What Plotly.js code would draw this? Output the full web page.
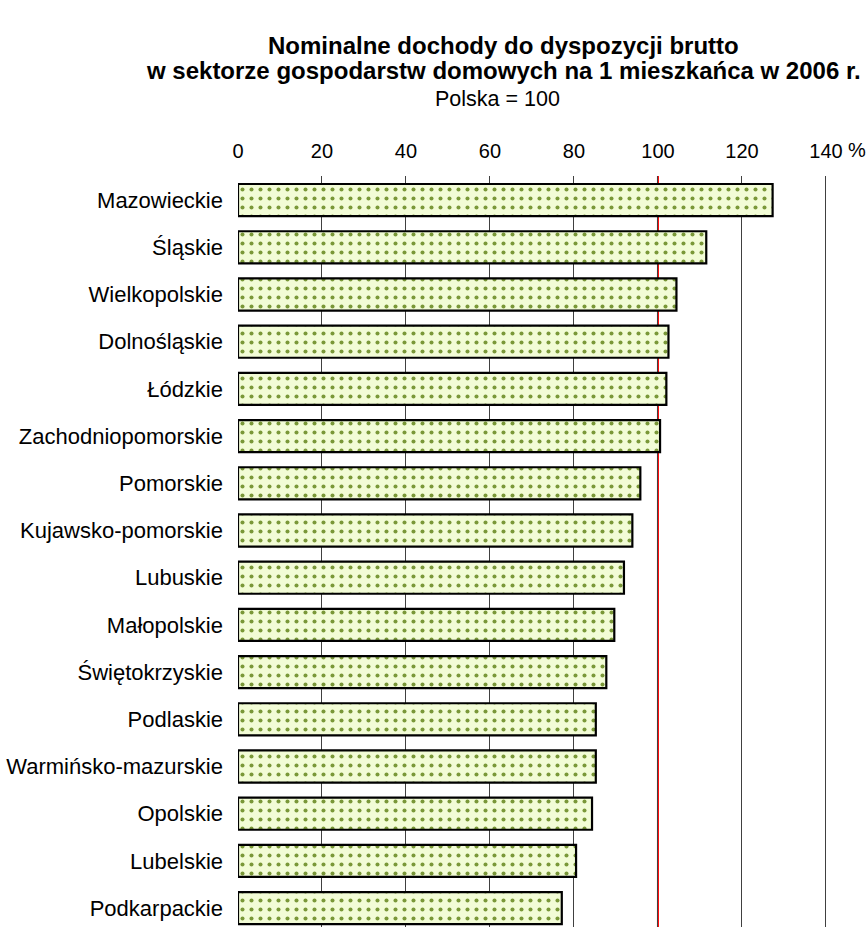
<!DOCTYPE html>
<html>
<head>
<meta charset="utf-8">
<script src="https://cdn.plot.ly/plotly-3.0.1.min.js"></script>
<style>html,body{margin:0;padding:0;background:#fff;}#chart{width:867px;height:927px;}</style>
</head>
<body>
<div id="chart"></div>
<script>
const regions = ["Mazowieckie","Śląskie","Wielkopolskie","Dolnośląskie","Łódzkie","Zachodniopomorskie","Pomorskie","Kujawsko-pomorskie","Lubuskie","Małopolskie","Świętokrzyskie","Podlaskie","Warmińsko-mazurskie","Opolskie","Lubelskie","Podkarpackie"];
const values = [127.3,111.5,104.4,102.5,102.0,100.5,95.8,93.9,91.9,89.6,87.7,85.2,85.2,84.3,80.5,77.1];
const tickVals = [0,20,40,60,80,100,120,140];
const tickLabels = ["0","20","40","60","80","100","120","140"];
const referenceValue = 100;
const titleLine1 = "Nominalne dochody do dyspozycji brutto";
const titleLine2 = "w sektorze gospodarstw domowych na 1 mieszkańca w 2006 r.";
const subtitle = "Polska = 100";
const unitLabel = "%";

const FONT = "Liberation Sans, Arial, sans-serif";

const trace = {
  type: "bar",
  orientation: "h",
  x: values,
  y: regions,
  marker: {
    color: "#f2fcd6",
    line: {color: "#000", width: 2.2},
    pattern: {shape: ".", fgcolor: "#7a9838", bgcolor: "#f2fcd6", size: 9, solidity: 0.16}
  },
  hoverinfo: "x+y"
};

const layout = {
  width: 867, height: 927,
  margin: {l: 238, r: 40, t: 176, b: 0},
  paper_bgcolor: "#fff", plot_bgcolor: "#fff",
  showlegend: false,
  bargap: 0.32,
  font: {family: FONT, size: 21, color: "#000"},
  xaxis: {
    side: "top",
    range: [0, 140.25],
    tickvals: tickVals,
    ticktext: tickLabels,
    showgrid: true, gridcolor: "#404040", gridwidth: 1,
    zeroline: false, showline: false, ticks: "",
    ticklabelstandoff: 13,
    tickfont: {family: FONT, size: 20, color: "#000"},
    fixedrange: true
  },
  yaxis: {
    type: "category",
    categoryorder: "array", categoryarray: regions,
    range: [15.4, -0.51],
    showgrid: false, zeroline: false, showline: false, ticks: "",
    ticklabelstandoff: 14,
    tickfont: {family: FONT, size: 22, color: "#000"},
    fixedrange: true
  },
  shapes: [{
    type: "line", layer: "between", xref: "x", yref: "paper",
    x0: referenceValue, x1: referenceValue, y0: 0, y1: 1,
    line: {color: "#ff0000", width: 2}
  }],
  annotations: [
    {text: "<b>" + titleLine1 + "</b>", xref: "paper", yref: "paper", x: 0.45, y: 1, yshift: 131, xanchor: "center", yanchor: "middle", showarrow: false, font: {family: FONT, size: 24, color: "#000"}},
    {text: "<b>" + titleLine2 + "</b>", xref: "paper", yref: "paper", x: 0.45, y: 1, yshift: 106, xanchor: "center", yanchor: "middle", showarrow: false, font: {family: FONT, size: 24, color: "#000"}},
    {text: subtitle, xref: "paper", yref: "paper", x: 0.44, y: 1, yshift: 77, xanchor: "center", yanchor: "middle", showarrow: false, font: {family: FONT, size: 21.5, color: "#000"}},
    {text: unitLabel, xref: "x", yref: "paper", x: tickVals[tickVals.length-1], y: 1, xshift: 31, yshift: 26, xanchor: "center", yanchor: "middle", showarrow: false, font: {family: FONT, size: 20, color: "#000"}}
  ]
};

Plotly.newPlot("chart", [trace], layout, {displayModeBar: false, staticPlot: true});
</script>
</body>
</html>
